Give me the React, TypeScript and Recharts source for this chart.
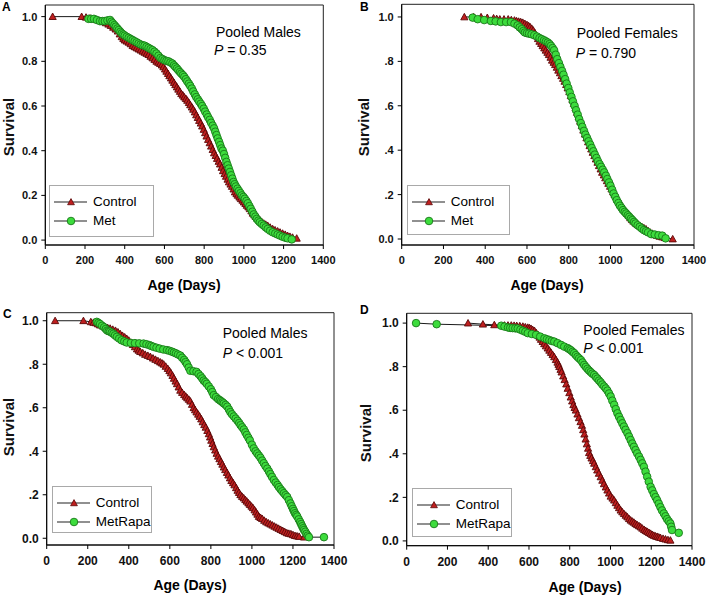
import React from 'react';
import { LineChart, Line, XAxis, YAxis, ReferenceArea, Legend } from 'recharts';

type Pt = [number, number];

// shared axis ticks
const dayTicks = [0, 200, 400, 600, 800, 1000, 1200, 1400];
const survTicks = [0, 0.2, 0.4, 0.6, 0.8, 1.0];

// A: pooled males, Control vs Met  [age in days, survival]
const malesControlA: Pt[] = [
  [37, 1.0], [183, 1.0], [205, 0.997], [225, 0.993], [245, 0.99], [260, 0.986], [275, 0.982], [290, 0.977],
  [305, 0.972], [318, 0.966], [330, 0.96], [342, 0.952], [354, 0.944], [365, 0.935], [375, 0.922], [385, 0.91],
  [393, 0.902], [400, 0.895], [410, 0.89], [420, 0.885], [430, 0.878], [440, 0.87], [450, 0.865], [460, 0.86],
  [470, 0.855], [480, 0.85], [490, 0.845], [500, 0.84], [510, 0.835], [520, 0.83], [530, 0.822], [540, 0.815],
  [550, 0.808], [560, 0.8], [569, 0.795], [578, 0.79], [587, 0.783], [595, 0.775], [603, 0.765], [610, 0.755],
  [618, 0.745], [625, 0.735], [633, 0.725], [640, 0.715], [648, 0.705], [655, 0.695], [663, 0.685], [670, 0.675],
  [678, 0.665], [685, 0.655], [693, 0.648], [700, 0.64], [708, 0.633], [715, 0.625], [723, 0.615], [730, 0.605],
  [738, 0.595], [745, 0.585], [753, 0.573], [760, 0.56], [768, 0.548], [775, 0.535], [783, 0.523], [790, 0.51],
  [798, 0.495], [805, 0.48], [812, 0.465], [820, 0.45], [828, 0.435], [835, 0.42], [843, 0.405], [850, 0.39],
  [858, 0.378], [865, 0.365], [873, 0.352], [880, 0.34], [888, 0.325], [895, 0.31], [903, 0.297], [910, 0.285],
  [918, 0.272], [925, 0.26], [933, 0.25], [940, 0.24], [948, 0.228], [955, 0.215], [963, 0.207], [970, 0.2],
  [978, 0.192], [985, 0.185], [993, 0.178], [1000, 0.17], [1008, 0.163], [1015, 0.155], [1023, 0.148],
  [1030, 0.14], [1038, 0.13], [1045, 0.12], [1053, 0.112], [1060, 0.105], [1070, 0.097], [1080, 0.09],
  [1090, 0.082], [1100, 0.075], [1110, 0.07], [1120, 0.065], [1132, 0.057], [1145, 0.05], [1157, 0.045],
  [1170, 0.04], [1182, 0.035], [1195, 0.03], [1208, 0.025], [1220, 0.02], [1232, 0.016], [1245, 0.012],
  [1266, 0.008],
];
const malesMetA: Pt[] = [
  [217, 0.99], [231, 0.99], [245, 0.99], [260, 0.985], [275, 0.98], [288, 0.98], [300, 0.98], [313, 0.983],
  [326, 0.985], [333, 0.977], [340, 0.97], [348, 0.962], [355, 0.955], [363, 0.947], [370, 0.94], [378, 0.932],
  [385, 0.925], [393, 0.92], [400, 0.915], [410, 0.91], [420, 0.905], [430, 0.9], [440, 0.895], [450, 0.89],
  [460, 0.885], [470, 0.88], [480, 0.875], [490, 0.872], [500, 0.87], [510, 0.865], [520, 0.86], [530, 0.855],
  [540, 0.85], [550, 0.843], [560, 0.835], [570, 0.825], [580, 0.815], [590, 0.81], [600, 0.805], [610, 0.802],
  [620, 0.8], [630, 0.795], [640, 0.79], [648, 0.782], [655, 0.775], [663, 0.768], [670, 0.76], [678, 0.752],
  [685, 0.745], [693, 0.738], [700, 0.73], [708, 0.72], [715, 0.71], [723, 0.7], [730, 0.69], [738, 0.678],
  [745, 0.665], [753, 0.652], [760, 0.64], [768, 0.63], [775, 0.62], [783, 0.61], [790, 0.6], [798, 0.588],
  [805, 0.575], [813, 0.562], [820, 0.55], [828, 0.538], [835, 0.525], [843, 0.512], [850, 0.5], [856, 0.485],
  [862, 0.47], [868, 0.455], [875, 0.44], [881, 0.425], [887, 0.41], [894, 0.4], [900, 0.385], [906, 0.368],
  [912, 0.35], [918, 0.335], [924, 0.32], [930, 0.305], [936, 0.29], [942, 0.275], [948, 0.26], [954, 0.25],
  [960, 0.24], [968, 0.23], [975, 0.22], [983, 0.21], [990, 0.2], [998, 0.193], [1005, 0.185], [1013, 0.175],
  [1020, 0.165], [1028, 0.152], [1035, 0.14], [1043, 0.127], [1050, 0.115], [1058, 0.105], [1065, 0.095],
  [1073, 0.087], [1080, 0.08], [1090, 0.072], [1100, 0.065], [1110, 0.057], [1120, 0.05], [1132, 0.042],
  [1145, 0.035], [1158, 0.03], [1170, 0.025], [1182, 0.02], [1195, 0.015], [1208, 0.011], [1220, 0.008],
  [1241, 0.003],
];

// B: pooled females, Control vs Met
const femalesControlB: Pt[] = [
  [300, 1.0], [345, 1.0], [380, 1.0], [410, 0.997], [440, 0.995], [455, 0.992], [470, 0.99], [490, 0.99],
  [510, 0.99], [525, 0.987], [540, 0.985], [550, 0.982], [560, 0.98], [570, 0.978], [580, 0.975], [590, 0.97],
  [600, 0.965], [608, 0.96], [615, 0.955], [623, 0.948], [630, 0.94], [638, 0.928], [645, 0.915], [653, 0.902],
  [660, 0.89], [668, 0.88], [675, 0.87], [683, 0.86], [690, 0.85], [698, 0.84], [705, 0.83], [713, 0.818],
  [720, 0.805], [728, 0.795], [735, 0.785], [743, 0.773], [750, 0.76], [758, 0.748], [765, 0.735], [773, 0.723],
  [780, 0.71], [788, 0.695], [795, 0.68], [803, 0.663], [810, 0.645], [818, 0.628], [825, 0.61], [833, 0.59],
  [840, 0.57], [848, 0.55], [855, 0.53], [863, 0.51], [870, 0.49], [878, 0.472], [885, 0.455], [893, 0.437],
  [900, 0.42], [908, 0.405], [915, 0.39], [923, 0.375], [930, 0.36], [938, 0.345], [945, 0.33], [953, 0.315],
  [960, 0.3], [968, 0.288], [975, 0.275], [983, 0.262], [990, 0.25], [998, 0.237], [1005, 0.225], [1013, 0.212],
  [1020, 0.2], [1028, 0.19], [1035, 0.18], [1043, 0.167], [1050, 0.155], [1058, 0.145], [1065, 0.135],
  [1073, 0.125], [1080, 0.115], [1088, 0.105], [1095, 0.095], [1103, 0.087], [1110, 0.08], [1120, 0.072],
  [1130, 0.065], [1140, 0.06], [1150, 0.055], [1160, 0.05], [1170, 0.045], [1180, 0.037], [1190, 0.03],
  [1200, 0.025], [1210, 0.02], [1222, 0.016], [1235, 0.012], [1248, 0.009], [1260, 0.006], [1298, 0.0],
];
const femalesMetB: Pt[] = [
  [340, 0.997], [364, 0.99], [395, 0.986], [427, 0.982], [450, 0.98], [475, 0.977], [500, 0.977], [523, 0.977],
  [540, 0.97], [555, 0.962], [565, 0.953], [575, 0.945], [583, 0.937], [590, 0.93], [600, 0.927], [610, 0.925],
  [622, 0.922], [635, 0.918], [648, 0.912], [660, 0.905], [671, 0.9], [682, 0.895], [691, 0.89], [700, 0.885],
  [708, 0.878], [715, 0.87], [723, 0.86], [730, 0.85], [738, 0.83], [745, 0.81], [753, 0.792], [760, 0.775],
  [768, 0.757], [775, 0.74], [783, 0.72], [790, 0.7], [798, 0.68], [805, 0.66], [813, 0.64], [820, 0.62],
  [828, 0.6], [835, 0.58], [843, 0.56], [850, 0.54], [858, 0.522], [865, 0.505], [873, 0.487], [880, 0.47],
  [888, 0.455], [895, 0.44], [903, 0.425], [910, 0.41], [918, 0.395], [925, 0.38], [933, 0.365], [940, 0.35],
  [948, 0.337], [955, 0.325], [963, 0.312], [970, 0.3], [978, 0.285], [985, 0.27], [993, 0.255], [1000, 0.24],
  [1008, 0.222], [1015, 0.205], [1023, 0.19], [1030, 0.175], [1038, 0.162], [1045, 0.15], [1053, 0.14],
  [1060, 0.13], [1068, 0.122], [1075, 0.115], [1083, 0.107], [1090, 0.1], [1098, 0.092], [1105, 0.085],
  [1113, 0.077], [1120, 0.07], [1130, 0.062], [1140, 0.055], [1150, 0.047], [1160, 0.04], [1170, 0.035],
  [1180, 0.03], [1195, 0.022], [1212, 0.02], [1230, 0.017], [1248, 0.015], [1264, 0.003],
];

// C: pooled males, Control vs MetRapa
const malesControlC: Pt[] = [
  [41, 1.0], [179, 1.0], [215, 0.995], [228, 0.992], [240, 0.99], [250, 0.985], [260, 0.98], [273, 0.976],
  [285, 0.972], [297, 0.968], [309, 0.965], [322, 0.96], [335, 0.955], [347, 0.948], [358, 0.94], [369, 0.932],
  [380, 0.925], [390, 0.918], [400, 0.91], [410, 0.9], [420, 0.89], [430, 0.88], [440, 0.87], [448, 0.864],
  [456, 0.858], [468, 0.852], [480, 0.845], [493, 0.84], [505, 0.835], [518, 0.828], [530, 0.822], [542, 0.816],
  [553, 0.81], [562, 0.805], [570, 0.8], [580, 0.79], [590, 0.78], [598, 0.77], [605, 0.76], [613, 0.748],
  [620, 0.735], [628, 0.722], [635, 0.71], [643, 0.695], [651, 0.68], [660, 0.67], [670, 0.66], [678, 0.652],
  [685, 0.645], [693, 0.638], [700, 0.63], [708, 0.615], [716, 0.6], [723, 0.59], [730, 0.58], [738, 0.57],
  [745, 0.56], [753, 0.548], [760, 0.535], [768, 0.522], [775, 0.51], [783, 0.495], [790, 0.48], [796, 0.465],
  [802, 0.45], [808, 0.435], [814, 0.42], [821, 0.405], [828, 0.39], [835, 0.377], [842, 0.365], [849, 0.352],
  [856, 0.34], [863, 0.327], [870, 0.315], [878, 0.302], [885, 0.29], [893, 0.277], [900, 0.265], [908, 0.255],
  [915, 0.245], [923, 0.232], [930, 0.22], [937, 0.21], [944, 0.2], [952, 0.192], [960, 0.185], [968, 0.177],
  [975, 0.17], [983, 0.162], [990, 0.155], [998, 0.147], [1005, 0.14], [1013, 0.13], [1020, 0.12], [1027, 0.11],
  [1034, 0.1], [1042, 0.095], [1050, 0.09], [1060, 0.082], [1070, 0.075], [1080, 0.07], [1090, 0.065],
  [1100, 0.06], [1110, 0.055], [1120, 0.05], [1130, 0.045], [1140, 0.04], [1150, 0.035], [1160, 0.03],
  [1170, 0.025], [1180, 0.022], [1190, 0.02], [1200, 0.016], [1210, 0.012], [1220, 0.01], [1230, 0.008],
  [1254, 0.005],
];
const malesMetRapaC: Pt[] = [
  [244, 0.995], [252, 0.99], [260, 0.985], [270, 0.977], [280, 0.97], [288, 0.962], [295, 0.955], [302, 0.952],
  [309, 0.95], [317, 0.945], [325, 0.94], [333, 0.933], [342, 0.926], [353, 0.918], [365, 0.91], [378, 0.905],
  [390, 0.9], [410, 0.898], [430, 0.897], [451, 0.896], [472, 0.895], [486, 0.892], [500, 0.888], [510, 0.884],
  [521, 0.88], [535, 0.876], [550, 0.872], [568, 0.868], [586, 0.865], [598, 0.862], [610, 0.858], [620, 0.854],
  [630, 0.85], [640, 0.845], [651, 0.84], [660, 0.83], [670, 0.82], [677, 0.81], [684, 0.8], [692, 0.785],
  [700, 0.77], [715, 0.768], [730, 0.765], [740, 0.755], [750, 0.745], [758, 0.735], [765, 0.725], [773, 0.718],
  [780, 0.71], [790, 0.698], [800, 0.685], [807, 0.672], [814, 0.658], [825, 0.649], [835, 0.64], [843, 0.635],
  [850, 0.63], [857, 0.625], [863, 0.62], [872, 0.613], [880, 0.605], [888, 0.592], [895, 0.58], [903, 0.57],
  [912, 0.56], [921, 0.55], [930, 0.54], [938, 0.53], [945, 0.52], [953, 0.51], [961, 0.5], [968, 0.487],
  [975, 0.475], [983, 0.462], [990, 0.45], [1000, 0.43], [1009, 0.413], [1018, 0.4], [1026, 0.39], [1034, 0.38],
  [1042, 0.37], [1050, 0.357], [1058, 0.345], [1066, 0.332], [1075, 0.32], [1083, 0.307], [1090, 0.295],
  [1098, 0.282], [1107, 0.268], [1116, 0.256], [1125, 0.245], [1132, 0.235], [1140, 0.225], [1148, 0.216],
  [1156, 0.207], [1164, 0.198], [1172, 0.19], [1180, 0.175], [1188, 0.16], [1194, 0.147], [1200, 0.135],
  [1205, 0.125], [1210, 0.115], [1216, 0.107], [1221, 0.1], [1228, 0.087], [1235, 0.075], [1240, 0.065],
  [1245, 0.055], [1250, 0.046], [1254, 0.038], [1260, 0.03], [1266, 0.02], [1272, 0.012], [1278, 0.005],
  [1351, 0.005],
];

// D: pooled females, Control vs MetRapa
const femalesControlD: Pt[] = [
  [301, 1.0], [374, 0.995], [430, 0.992], [480, 0.99], [497, 0.99], [513, 0.99], [527, 0.989], [540, 0.988],
  [555, 0.987], [570, 0.985], [582, 0.982], [594, 0.98], [602, 0.978], [610, 0.975], [618, 0.97], [627, 0.965],
  [636, 0.955], [645, 0.945], [652, 0.935], [659, 0.925], [667, 0.915], [675, 0.905], [683, 0.895], [692, 0.885],
  [700, 0.875], [708, 0.865], [716, 0.855], [724, 0.845], [732, 0.832], [740, 0.82], [745, 0.81], [749, 0.8],
  [755, 0.787], [760, 0.775], [768, 0.757], [775, 0.74], [783, 0.72], [790, 0.7], [798, 0.68], [805, 0.66],
  [812, 0.642], [818, 0.625], [824, 0.612], [830, 0.6], [838, 0.582], [845, 0.565], [853, 0.547], [860, 0.53],
  [866, 0.51], [872, 0.49], [878, 0.467], [884, 0.445], [890, 0.425], [895, 0.405], [901, 0.392], [907, 0.38],
  [914, 0.368], [920, 0.356], [928, 0.34], [935, 0.325], [943, 0.31], [952, 0.294], [960, 0.278], [968, 0.262],
  [977, 0.247], [985, 0.233], [993, 0.219], [1001, 0.205], [1010, 0.196], [1018, 0.187], [1026, 0.175],
  [1034, 0.163], [1042, 0.152], [1050, 0.141], [1058, 0.133], [1066, 0.125], [1075, 0.117], [1083, 0.11],
  [1091, 0.102], [1099, 0.095], [1107, 0.09], [1115, 0.085], [1123, 0.079], [1131, 0.074], [1140, 0.069],
  [1148, 0.064], [1156, 0.058], [1165, 0.052], [1173, 0.047], [1181, 0.043], [1189, 0.038], [1197, 0.034],
  [1205, 0.029], [1213, 0.025], [1221, 0.022], [1229, 0.02], [1237, 0.017], [1245, 0.015], [1258, 0.011],
  [1270, 0.008], [1282, 0.005], [1294, 0.003],
];
const femalesMetRapaD: Pt[] = [
  [46, 1.0], [147, 0.995], [464, 0.988], [480, 0.984], [497, 0.98], [508, 0.978], [520, 0.977], [533, 0.976],
  [545, 0.975], [558, 0.97], [570, 0.965], [582, 0.96], [594, 0.954], [614, 0.95], [635, 0.946], [655, 0.938],
  [676, 0.93], [688, 0.926], [700, 0.922], [712, 0.918], [724, 0.915], [740, 0.908], [757, 0.9], [773, 0.892],
  [790, 0.885], [798, 0.88], [806, 0.875], [814, 0.868], [822, 0.862], [830, 0.853], [838, 0.845], [846, 0.838],
  [855, 0.83], [863, 0.819], [871, 0.808], [879, 0.799], [887, 0.79], [895, 0.782], [903, 0.775], [911, 0.768],
  [920, 0.762], [928, 0.753], [936, 0.745], [944, 0.736], [952, 0.728], [960, 0.718], [969, 0.709], [977, 0.7],
  [985, 0.69], [993, 0.677], [1001, 0.663], [1009, 0.644], [1018, 0.625], [1026, 0.605], [1034, 0.586],
  [1042, 0.57], [1050, 0.555], [1058, 0.54], [1066, 0.525], [1074, 0.51], [1083, 0.495], [1091, 0.479],
  [1099, 0.463], [1107, 0.447], [1115, 0.432], [1123, 0.417], [1131, 0.402], [1140, 0.387], [1148, 0.372],
  [1156, 0.356], [1164, 0.34], [1172, 0.318], [1180, 0.295], [1188, 0.272], [1197, 0.248], [1205, 0.232],
  [1213, 0.215], [1221, 0.201], [1229, 0.187], [1237, 0.171], [1245, 0.155], [1253, 0.14], [1262, 0.126],
  [1270, 0.113], [1278, 0.1], [1286, 0.09], [1294, 0.08], [1298, 0.065], [1302, 0.05], [1335, 0.037],
];

const FONT = '"Liberation Sans", Arial, sans-serif';
const W = 709;
const H = 596;

const RED = '#bf1f1f';
const RED_EDGE = '#5a0808';
const GREEN = '#3ddc3d';
const GREEN_EDGE = '#187818';

const toRows = (pts: Pt[]) => pts.map(([d, s]) => ({ d, s }));

const triPath = (cx: number, cy: number, s: number) =>
  `M${cx},${cy - s}L${cx + s},${cy + s * 0.8}L${cx - s},${cy + s * 0.8}Z`;

const TriDot = (p: any) => {
  const { cx, cy, index } = p;
  if (cx == null || cy == null) return <g key={`t${index}`} />;
  return <path key={`t${index}`} d={triPath(cx, cy, 3.6)} fill={RED} stroke={RED_EDGE} strokeWidth={0.9} />;
};

const CircleDot = (p: any) => {
  const { cx, cy, index } = p;
  if (cx == null || cy == null) return <g key={`c${index}`} />;
  return <circle key={`c${index}`} cx={cx} cy={cy} r={3.8} fill={GREEN} stroke={GREEN_EDGE} strokeWidth={0.9} />;
};

const fmtShort = (v: number) => (v === 0 ? '0.0' : v === 1 ? '1.0' : v.toFixed(1).replace(/^0/, ''));
const fmtLong = (v: number) => v.toFixed(1);

type PanelProps = {
  plot: { l: number; r: number; t: number; b: number };
  yDomain: [number, number];
  fmt: (v: number) => string;
  tickFont: number;
  xTickGap: number;
  control: Pt[];
  treated: Pt[];
  treatedName: string;
  legendBox: { x: number; y: number; w: number; h: number };
};

function LegendBox({ box, treatedName }: { box: PanelProps['legendBox']; treatedName: string }) {
  const row = (name: string, tri: boolean) => (
    <div style={{ display: 'flex', alignItems: 'center', height: 19 }}>
      <svg width={34} height={10} style={{ marginLeft: 4, marginRight: 5 }}>
        <line x1={0} y1={5} x2={33} y2={5} stroke="#222" strokeWidth={1.2} />
        {tri ? (
          <path d={triPath(17, 5, 3.4)} fill={RED} stroke={RED_EDGE} strokeWidth={0.8} />
        ) : (
          <circle cx={17} cy={5} r={3.8} fill={GREEN} stroke={GREEN_EDGE} strokeWidth={0.9} />
        )}
      </svg>
      <span style={{ fontSize: 13.5, color: '#000' }}>{name}</span>
    </div>
  );
  return (
    <div
      style={{
        width: box.w,
        height: box.h,
        boxSizing: 'border-box',
        border: '1.5px solid #a9a9a9',
        background: '#fff',
        fontFamily: FONT,
        paddingTop: 6,
      }}
    >
      {row('Control', true)}
      {row(treatedName, false)}
    </div>
  );
}

function Panel(props: PanelProps) {
  const { plot, yDomain, fmt, tickFont, xTickGap, control, treated, treatedName, legendBox } = props;
  const yAxisW = 30;
  const xAxisH = 30;
  const tick = { fontSize: tickFont, fontWeight: 'bold' as const, fill: '#111', fontFamily: FONT };
  return (
    <div style={{ position: 'absolute', left: 0, top: 0 }}>
      <LineChart
        width={W}
        height={H}
        margin={{ top: plot.t, right: W - plot.r, bottom: H - plot.b - xAxisH, left: plot.l - yAxisW }}
      >
        <XAxis
          dataKey="d"
          type="number"
          domain={[0, 1400]}
          ticks={dayTicks}
          height={xAxisH}
          tickSize={4}
          tickMargin={xTickGap}
          tick={tick}
          stroke="#000"
          allowDuplicatedCategory={false}
        />
        <YAxis
          dataKey="s"
          type="number"
          domain={yDomain}
          ticks={survTicks}
          width={yAxisW}
          tickSize={4}
          tickMargin={4}
          tick={tick}
          tickFormatter={fmt}
          stroke="#000"
        />
        <ReferenceArea x1={0} x2={1400} y1={yDomain[0]} y2={yDomain[1]} fill="none" stroke="#222" strokeWidth={1} />
        <Line
          data={toRows(control)}
          dataKey="s"
          name="Control"
          type="linear"
          stroke="#1a1a1a"
          strokeWidth={1}
          dot={TriDot}
          isAnimationActive={false}
        />
        <Line
          data={toRows(treated)}
          dataKey="s"
          name={treatedName}
          type="linear"
          stroke="#1a1a1a"
          strokeWidth={1}
          dot={CircleDot}
          isAnimationActive={false}
        />
        <Legend
          layout="vertical"
          align="center"
          verticalAlign="middle"
          wrapperStyle={{ left: legendBox.x, top: legendBox.y, width: legendBox.w, height: legendBox.h }}
          content={() => <LegendBox box={legendBox} treatedName={treatedName} />}
        />
      </LineChart>
    </div>
  );
}

const txt = (x: number, y: number, content: React.ReactNode, style: React.CSSProperties = {}, center = false) => (
  <div
    style={{
      position: 'absolute',
      left: x,
      top: y,
      transform: center ? 'translate(-50%, -50%)' : 'translate(0, -50%)',
      fontFamily: FONT,
      lineHeight: 1,
      whiteSpace: 'nowrap',
      color: '#000',
      ...style,
    }}
  >
    {content}
  </div>
);

const yTitle = (x: number, y: number) => (
  <div
    style={{
      position: 'absolute',
      left: x,
      top: y,
      transform: 'translate(-50%, -50%) rotate(-90deg)',
      fontFamily: FONT,
      fontWeight: 'bold',
      fontSize: 15,
      lineHeight: 1,
      color: '#111',
    }}
  >
    Survival
  </div>
);

export default function App() {
  const note = { fontSize: 14 };
  const title = { fontSize: 14, fontWeight: 'bold' as const };
  const letter = { fontSize: 12, fontWeight: 'bold' as const };
  return (
    <div style={{ position: 'absolute', left: 0, top: 0, width: W, height: H, background: '#fff', overflow: 'hidden' }}>
      <Panel
        plot={{ l: 45.3, r: 323.3, t: 5, b: 245 }}
        yDomain={[-0.022, 1.052]}
        fmt={fmtLong}
        tickFont={11}
        xTickGap={7}
        control={malesControlA}
        treated={malesMetA}
        treatedName="Met"
        legendBox={{ x: 49, y: 185, w: 105, h: 52 }}
      />
      <Panel
        plot={{ l: 401.7, r: 694, t: 4.3, b: 245 }}
        yDomain={[-0.027, 1.057]}
        fmt={fmtShort}
        tickFont={11}
        xTickGap={7}
        control={femalesControlB}
        treated={femalesMetB}
        treatedName="Met"
        legendBox={{ x: 406.7, y: 185, w: 103, h: 50 }}
      />
      <Panel
        plot={{ l: 46.7, r: 334, t: 312.7, b: 545 }}
        yDomain={[-0.031, 1.037]}
        fmt={fmtShort}
        tickFont={12}
        xTickGap={7}
        control={malesControlC}
        treated={malesMetRapaC}
        treatedName="MetRapa"
        legendBox={{ x: 51.7, y: 486, w: 100, h: 47 }}
      />
      <Panel
        plot={{ l: 406.7, r: 692, t: 313.3, b: 545.7 }}
        yDomain={[-0.022, 1.045]}
        fmt={fmtShort}
        tickFont={12}
        xTickGap={8}
        control={femalesControlD}
        treated={femalesMetRapaD}
        treatedName="MetRapa"
        legendBox={{ x: 411.7, y: 488, w: 100, h: 49 }}
      />

      {txt(2, 7, 'A', letter)}
      {txt(360, 7, 'B', letter)}
      {txt(3, 314, 'C', letter)}
      {txt(360, 310, 'D', letter)}

      {txt(216, 32, 'Pooled Males', note)}
      {txt(214, 50, <><i>P</i> = 0.35</>, note)}
      {txt(576.7, 33, 'Pooled Females', note)}
      {txt(575.7, 53, <><i>P</i> = 0.790</>, note)}
      {txt(222.7, 333, 'Pooled Males', note)}
      {txt(222.7, 353, <><i>P</i> &lt; 0.001</>, note)}
      {txt(583.3, 330, 'Pooled Females', note)}
      {txt(583.3, 348, <><i>P</i> &lt; 0.001</>, note)}

      {txt(184, 285, 'Age (Days)', title, true)}
      {txt(547, 285, 'Age (Days)', title, true)}
      {txt(190, 585, 'Age (Days)', title, true)}
      {txt(585, 587, 'Age (Days)', title, true)}

      {yTitle(8, 127)}
      {yTitle(363, 127)}
      {yTitle(8, 427)}
      {yTitle(365, 433)}
    </div>
  );
}
